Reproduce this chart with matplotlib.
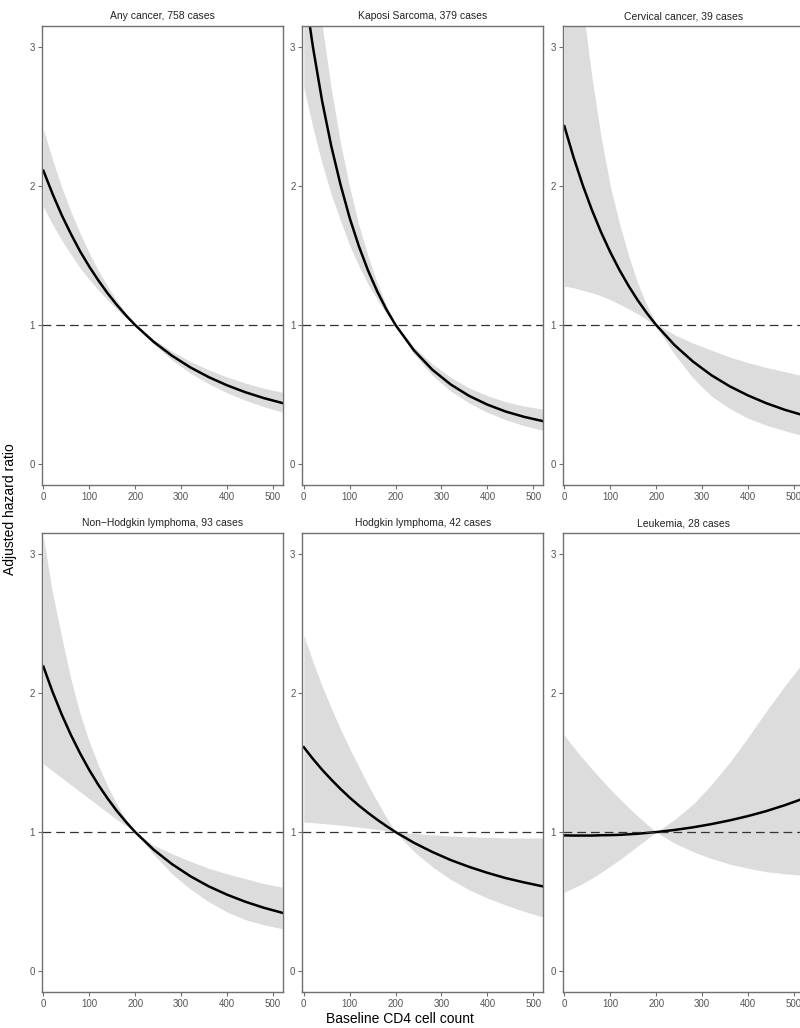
import matplotlib.pyplot as plt

plt.rcParams['font.family'] = ['Liberation Sans', 'DejaVu Sans']

cd4 = [0, 20, 40, 60, 80, 100, 120, 140, 160, 180, 200, 240, 280, 320, 360, 400, 440, 480, 520]

titulos = ['Any cancer, 758 cases', 'Kaposi Sarcoma, 379 cases', 'Cervical cancer, 39 cases',
           'Non\u2212Hodgkin lymphoma, 93 cases', 'Hodgkin lymphoma, 42 cases', 'Leukemia, 28 cases']

# hazard ratio estimado
hr_any = [2.11, 1.943, 1.79, 1.655, 1.53, 1.42, 1.32, 1.228, 1.145, 1.069, 1.0,
          0.88, 0.78, 0.696, 0.626, 0.567, 0.517, 0.475, 0.44]
hr_ks = [3.45, 2.998, 2.61, 2.285, 2.01, 1.77, 1.567, 1.392, 1.242, 1.112, 1.0,
         0.818, 0.679, 0.573, 0.491, 0.428, 0.378, 0.34, 0.31]
hr_cerv = [2.43, 2.206, 2.006, 1.827, 1.667, 1.524, 1.396, 1.281, 1.177, 1.084, 1.0,
           0.856, 0.738, 0.64, 0.56, 0.494, 0.438, 0.391, 0.352]
hr_nhl = [2.19, 2.008, 1.845, 1.698, 1.566, 1.446, 1.338, 1.241, 1.152, 1.073, 1.0,
          0.874, 0.77, 0.683, 0.61, 0.55, 0.499, 0.456, 0.42]
hr_hl = [1.61, 1.526, 1.448, 1.377, 1.31, 1.248, 1.191, 1.138, 1.089, 1.043, 1.0,
         0.923, 0.857, 0.799, 0.75, 0.707, 0.669, 0.638, 0.61]
hr_leu = [0.976, 0.975, 0.975, 0.975, 0.977, 0.978, 0.98, 0.984, 0.988, 0.994, 1.0,
          1.015, 1.034, 1.057, 1.084, 1.115, 1.151, 1.193, 1.24]

# limites del intervalo de confianza
sup_any = [2.41, 2.19, 1.99, 1.816, 1.66, 1.518, 1.39, 1.278, 1.176, 1.086, 1.005,
           0.898, 0.812, 0.739, 0.678, 0.627, 0.583, 0.546, 0.517]
inf_any = [1.85, 1.723, 1.61, 1.508, 1.41, 1.328, 1.25, 1.18, 1.115, 1.052, 0.995,
           0.863, 0.749, 0.655, 0.578, 0.513, 0.459, 0.413, 0.375]
sup_ks = [4.39, 3.72, 3.16, 2.694, 2.31, 1.991, 1.72, 1.496, 1.303, 1.141, 1.005,
          0.843, 0.721, 0.624, 0.548, 0.492, 0.448, 0.417, 0.396]
inf_ks = [2.71, 2.418, 2.16, 1.938, 1.75, 1.573, 1.425, 1.295, 1.184, 1.083, 0.995,
          0.794, 0.639, 0.526, 0.44, 0.372, 0.319, 0.277, 0.243]
sup_cerv = [4.6, 3.88, 3.3, 2.78, 2.35, 2.0, 1.73, 1.5, 1.3, 1.14, 1.01,
            0.93, 0.87, 0.82, 0.77, 0.73, 0.695, 0.665, 0.635]
inf_cerv = [1.28, 1.268, 1.25, 1.232, 1.21, 1.183, 1.15, 1.117, 1.08, 1.038, 0.99,
            0.79, 0.62, 0.49, 0.4, 0.33, 0.28, 0.24, 0.205]
sup_nhl = [3.12, 2.72, 2.4, 2.1, 1.85, 1.65, 1.48, 1.33, 1.2, 1.09, 1.0,
           0.905, 0.845, 0.79, 0.74, 0.7, 0.665, 0.63, 0.604]
inf_nhl = [1.49, 1.44, 1.39, 1.34, 1.29, 1.24, 1.19, 1.14, 1.09, 1.045, 1.0,
           0.84, 0.7, 0.59, 0.5, 0.425, 0.37, 0.333, 0.305]
sup_hl = [2.415, 2.225, 2.05, 1.89, 1.74, 1.6, 1.47, 1.34, 1.22, 1.105, 1.0,
          0.99, 0.98, 0.972, 0.966, 0.962, 0.958, 0.957, 0.957]
inf_hl = [1.072, 1.067, 1.062, 1.056, 1.05, 1.043, 1.035, 1.027, 1.018, 1.009, 1.0,
          0.86, 0.75, 0.66, 0.585, 0.525, 0.475, 0.43, 0.39]
sup_leu = [1.695, 1.61, 1.53, 1.453, 1.38, 1.308, 1.24, 1.175, 1.115, 1.056, 1.0,
           1.09, 1.2, 1.34, 1.5, 1.68, 1.87, 2.05, 2.22]
inf_leu = [0.568, 0.598, 0.63, 0.668, 0.71, 0.755, 0.8, 0.85, 0.9, 0.95, 1.0,
           0.92, 0.86, 0.81, 0.77, 0.74, 0.715, 0.7, 0.69]

curvas = [hr_any, hr_ks, hr_cerv, hr_nhl, hr_hl, hr_leu]
superiores = [sup_any, sup_ks, sup_cerv, sup_nhl, sup_hl, sup_leu]
inferiores = [inf_any, inf_ks, inf_cerv, inf_nhl, inf_hl, inf_leu]

fig = plt.figure(figsize=(8, 10.28), dpi=100)

izq = [0.0525, 0.378, 0.70375]
abajo = [0.5282, 0.035]
ancho = 0.30125
alto = 0.4465
gris = '#707070'

for i in range(6):
    fila, col = divmod(i, 3)
    ax = fig.add_axes([izq[col], abajo[fila], ancho, alto])
    ax.fill_between(cd4, inferiores[i], superiores[i], color='#dcdcdc', lw=0)
    ax.plot(cd4, curvas[i], color='black', lw=1.8, solid_joinstyle='round')
    ax.axhline(1, color='#333333', lw=0.9, dashes=(7, 4))
    ax.set_xlim(-3, 522)
    ax.set_ylim(-0.15, 3.15)
    ax.set_xticks([0, 100, 200, 300, 400, 500])
    ax.set_yticks([0, 1, 2, 3])
    ax.tick_params(length=3, width=0.8, color=gris, labelcolor='#555555', labelsize=7, pad=2)
    for s in ax.spines.values():
        s.set_color(gris)
        s.set_linewidth(1.0)
    ax.set_title(titulos[i], fontsize=7.5, color='#222222', pad=5)

fig.text(0.013, 0.505, 'Adjusted hazard ratio', rotation=90, ha='center', va='center', fontsize=10)
fig.text(0.5, 0.009, 'Baseline CD4 cell count', ha='center', va='center', fontsize=10)

plt.savefig('out.png', dpi=100)
